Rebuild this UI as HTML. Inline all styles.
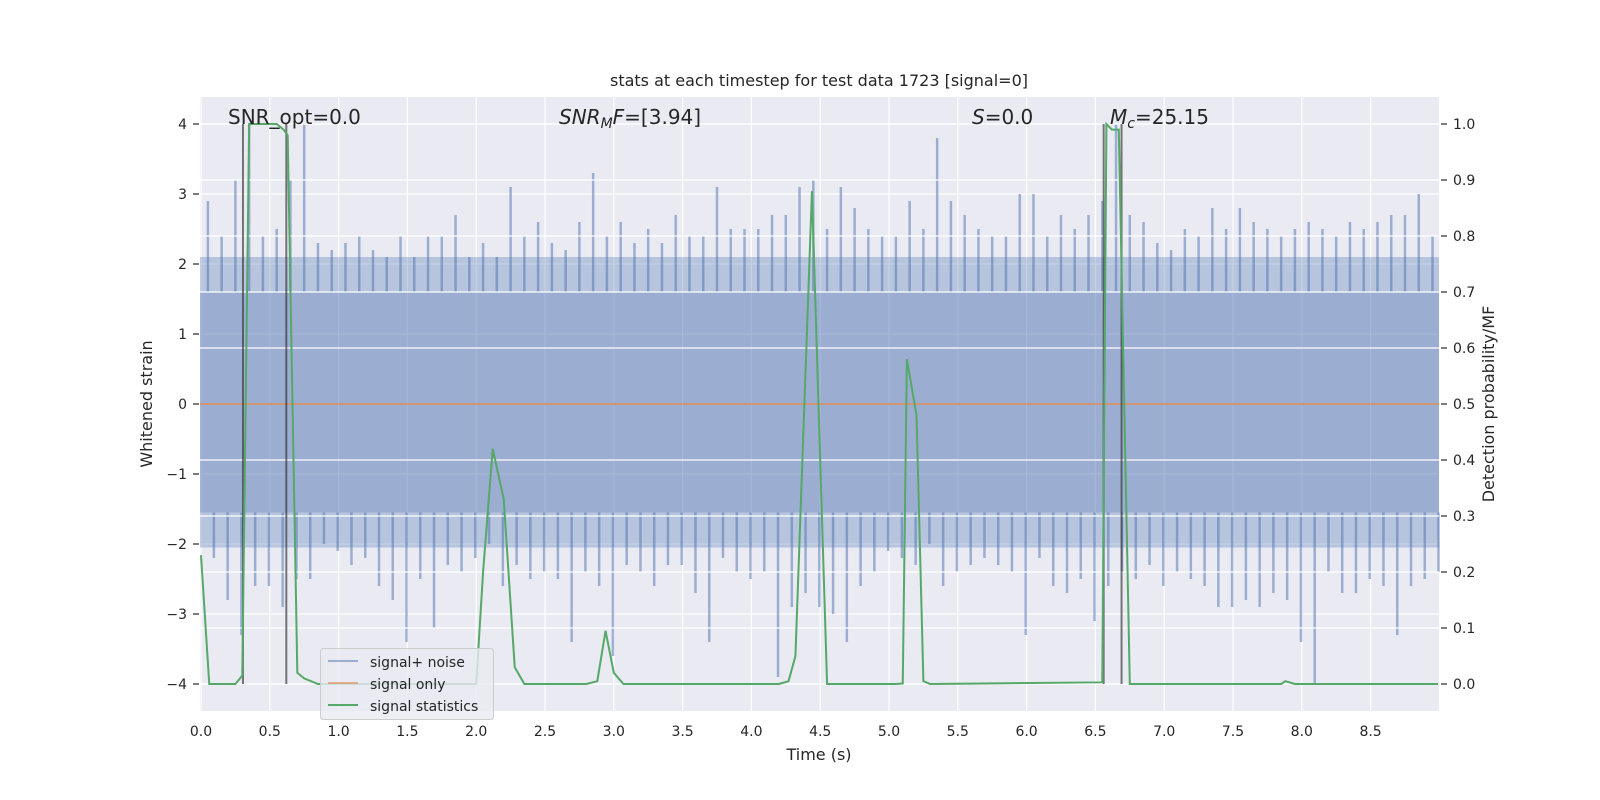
<!DOCTYPE html>
<html><head><meta charset="utf-8">
<style>
html,body{margin:0;padding:0;background:#fff;}
svg{display:block;font-family:"DejaVu Sans","Liberation Sans",sans-serif;}
</style></head>
<body>
<svg id="chart" width="1600" height="800" viewBox="0 0 1600 800">
<rect x="200" y="97" width="1239" height="614" fill="#eaeaf2"/>
<g id="gridUnder"></g>
<g id="noise"></g>
<g id="gridOver"></g>
<g id="lines"></g>
<g id="ticks"></g>
<text x="819" y="86" font-size="16" text-anchor="middle" fill="#262626">stats at each timestep for test data 1723 [signal=0]</text>
<text x="819" y="760" font-size="16" text-anchor="middle" fill="#262626">Time (s)</text>
<text x="0" y="0" font-size="16" text-anchor="middle" fill="#262626" transform="translate(152,404) rotate(-90)">Whitened strain</text>
<text x="0" y="0" font-size="16" text-anchor="middle" fill="#262626" transform="translate(1494,404) rotate(-90)">Detection probability/MF</text>
<text x="228" y="124" font-size="20" fill="#262626">SNR_opt=0.0</text>
<text x="559" y="124" font-size="20" fill="#262626"><tspan font-style="italic">SNR</tspan><tspan font-style="italic" font-size="14" dy="4">M</tspan><tspan font-style="italic" dy="-4">F</tspan>=[3.94]</text>
<text x="972" y="124" font-size="20" fill="#262626"><tspan font-style="italic">S</tspan>=0.0</text>
<text x="1110" y="124" font-size="20" fill="#262626"><tspan font-style="italic">M</tspan><tspan font-style="italic" font-size="14" dy="4">c</tspan><tspan dy="-4">=25.15</tspan></text>
<g>
<rect x="320.5" y="648.5" width="173" height="71" rx="3" fill="#eaeaf2" fill-opacity="0.8" stroke="#cccccc"/>
<line x1="328" y1="661" x2="358" y2="661" stroke="#4c72b0" stroke-opacity="0.5" stroke-width="2"/>
<text x="370" y="667" font-size="14" fill="#262626">signal+ noise</text>
<line x1="328" y1="683" x2="358" y2="683" stroke="#dd8452" stroke-opacity="0.6" stroke-width="2"/>
<text x="370" y="689" font-size="14" fill="#262626">signal only</text>
<line x1="328" y1="705" x2="358" y2="705" stroke="#55a868" stroke-width="2"/>
<text x="370" y="711" font-size="14" fill="#262626">signal statistics</text>
</g>
</svg>
<script>
const xTicks = [0,0.5,1,1.5,2,2.5,3,3.5,4,4.5,5,5.5,6,6.5,7,7.5,8,8.5];
const yTicks = [-4,-3,-2,-1,0,1,2,3,4];
const pTicks = [0,0.1,0.2,0.3,0.4,0.5,0.6,0.7,0.8,0.9,1.0];
const noiseTimes = Array.from({length:90},(_,i)=>i*0.1+0.05);
const noisePeaks = [2.9,2.4,3.2,4.0,2.4,2.5,3.2,4.0,2.3,2.2,
2.3,2.4,2.2,2.1,2.4,2.1,2.4,2.4,2.7,2.1,
2.3,2.1,3.1,2.4,2.6,2.3,2.2,2.6,3.3,2.4,
2.6,2.3,2.5,2.3,2.7,2.4,2.4,3.1,2.5,2.5,
2.5,2.7,2.7,3.1,3.2,2.5,3.1,2.8,2.5,2.4,
2.4,2.9,2.5,3.8,2.9,2.7,2.5,2.4,2.4,3.0,
3.0,2.4,2.7,2.5,2.7,2.9,4.0,2.7,2.6,2.3,
2.2,2.5,2.4,2.8,2.5,2.8,2.6,2.5,2.4,2.5,
2.6,2.5,2.4,2.6,2.5,2.6,2.7,2.7,3.0,2.4];
const noiseTroughs = [-2.2,-2.8,-3.3,-2.6,-2.6,-2.9,-2.5,-2.5,-2.0,-2.1,
-2.3,-2.2,-2.6,-2.8,-3.4,-2.5,-3.2,-2.3,-2.4,-2.2,
-2.0,-2.6,-2.3,-2.5,-2.4,-2.5,-3.4,-2.4,-2.6,-3.6,
-2.3,-2.4,-2.6,-2.3,-2.3,-2.7,-3.4,-2.2,-2.4,-2.5,
-2.4,-3.9,-2.9,-2.7,-2.9,-3.0,-3.4,-2.6,-2.4,-2.1,
-2.2,-2.3,-2.0,-2.6,-2.4,-2.3,-2.2,-2.3,-2.4,-3.3,
-2.2,-2.6,-2.7,-2.5,-3.1,-2.6,-2.4,-2.5,-2.3,-2.6,
-2.4,-2.5,-2.6,-2.9,-2.9,-2.8,-2.9,-2.7,-2.8,-3.4,
-4.0,-2.4,-2.7,-2.7,-2.5,-2.6,-3.3,-2.6,-2.5,-2.4];
const statTimes = [0,0.06,0.25,0.3,0.35,0.55,0.6,0.63,0.7,0.75,0.85,2.0,2.05,2.12,2.2,2.28,2.35,2.8,2.88,2.94,3.0,3.07,4.2,4.27,4.32,4.44,4.55,5.05,5.1,5.13,5.2,5.25,5.3,6.55,6.58,6.62,6.67,6.75,7.85,7.88,7.95,8.99];
const statValues = [0.23,0,0,0.015,1.0,1.0,0.99,0.98,0.02,0.01,0,0,0.2,0.42,0.33,0.03,0,0,0.005,0.095,0.02,0,0,0.005,0.05,0.88,0,0,0.001,0.58,0.48,0.005,0,0.003,1.0,0.99,0.99,0,0,0.005,0,0];
const markerTimes = [0.305,0.62,6.56,6.69];

const NS='http://www.w3.org/2000/svg';
const X=t=>201+t*137.6, Y=v=>404-v*70, P=p=>684-p*560;
function mk(tag,attrs,parent){const e=document.createElementNS(NS,tag);for(const k in attrs)e.setAttribute(k,attrs[k]);parent.appendChild(e);return e;}
const gu=document.getElementById('gridUnder'), go=document.getElementById('gridOver'), nz=document.getElementById('noise'), ln=document.getElementById('lines'), tk=document.getElementById('ticks');

xTicks.forEach(t=>{
  const l=mk('line',{x1:X(t),x2:X(t),y1:97,y2:711,stroke:'#fff','stroke-width':1.2},gu);
  
  
  const s=mk('text',{x:X(t),y:736,'font-size':14,'text-anchor':'middle',fill:'#262626'},tk);
  
  
  s.textContent=t.toFixed(1);
});
yTicks.forEach(v=>{
  const l=mk('line',{x1:200,x2:1439,y1:Y(v),y2:Y(v),stroke:'#fff','stroke-width':1.2},gu);
  
  
  mk('line',{x1:193,x2:199,y1:Y(v),y2:Y(v),stroke:'#262626','stroke-width':1.2},tk);
  const s=mk('text',{x:187,y:Y(v)+5,'font-size':14,'text-anchor':'end',fill:'#262626'},tk);
  
  
  s.textContent=(v<0?'\u2212':'')+Math.abs(v);
});
pTicks.forEach(p=>{
  const l=mk('line',{x1:200,x2:1439,y1:P(p),y2:P(p),stroke:'#fff','stroke-width':1.2},go);
  
  
  mk('line',{x1:1441,x2:1447,y1:P(p),y2:P(p),stroke:'#262626','stroke-width':1.2},tk);
  const s=mk('text',{x:1453,y:P(p)+5,'font-size':14,fill:'#262626'},tk);
  
  
  s.textContent=p.toFixed(1);
});

const core=mk('rect',{x:200,y:Y(1.6),width:1239,height:Y(-1.55)-Y(1.6),fill:'#4c72b0','fill-opacity':0.5},nz);


const mid=mk('rect',{x:200,y:Y(2.1),width:1239,height:Y(1.6)-Y(2.1),fill:'#4c72b0','fill-opacity':0.32},nz);


const midL=mk('rect',{x:200,y:Y(-1.55),width:1239,height:Y(-2.05)-Y(-1.55),fill:'#4c72b0','fill-opacity':0.32},nz);


noiseTimes.forEach((t,i)=>{
  const a=mk('line',{x1:X(t),x2:X(t),y1:Y(1.6),y2:Y(noisePeaks[i]),stroke:'#4c72b0','stroke-opacity':0.5,'stroke-width':2.5},nz);
  
  
  const b=mk('line',{x1:X(t)+6,x2:X(t)+6,y1:Y(-1.55),y2:Y(noiseTroughs[i]),stroke:'#4c72b0','stroke-opacity':0.5,'stroke-width':2.5},nz);
  
  
});

const so=mk('line',{x1:200,x2:1439,y1:Y(0),y2:Y(0),stroke:'#dd8452','stroke-width':1.5},ln);



markerTimes.forEach(t=>{
  const m=mk('line',{x1:X(t),x2:X(t),y1:Y(4),y2:Y(-4),stroke:'#333','stroke-opacity':0.65,'stroke-width':2},ln);
  
  
});

const pts=statTimes.map((t,i)=>X(t)+','+P(statValues[i])).join(' ');
const st=mk('polyline',{points:pts,fill:'none',stroke:'#55a868','stroke-width':2},ln);


</script>
</body></html>
